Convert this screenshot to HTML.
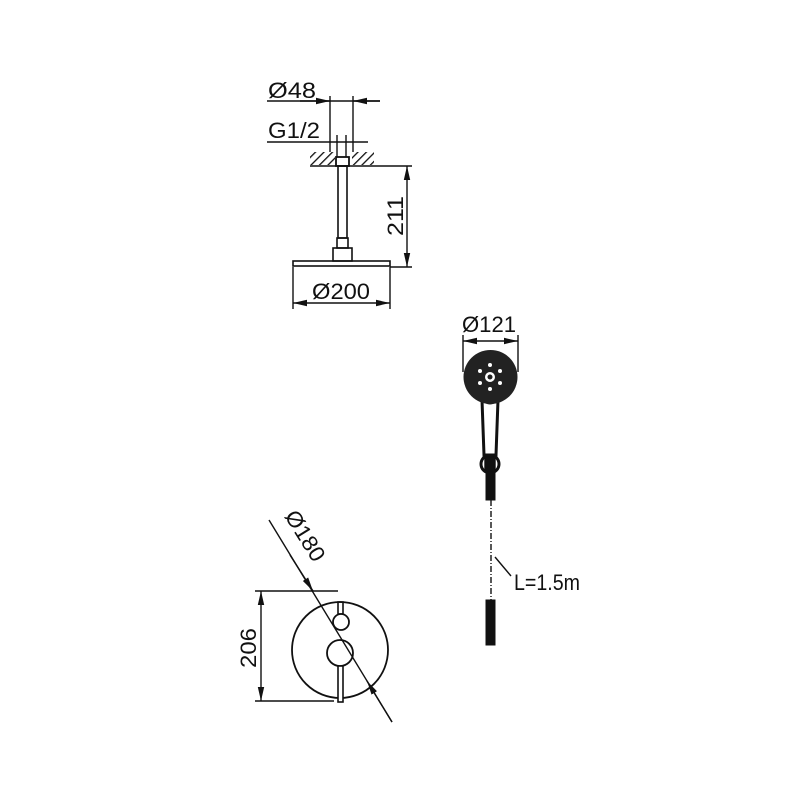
<!DOCTYPE html>
<html><head><meta charset="utf-8"><style>
html,body{margin:0;padding:0;background:#fff;}
svg{display:block;}
text{font-family:"Liberation Sans",sans-serif;fill:#111;}
</style></head><body>
<svg width="800" height="800" viewBox="0 0 800 800" xmlns="http://www.w3.org/2000/svg">
<defs>
<marker id="a" viewBox="0 0 14 10" refX="14" refY="5" markerWidth="14" markerHeight="10" orient="auto-start-reverse" markerUnits="userSpaceOnUse">
<path d="M0,1.8 L14,5 L0,8.2 Z" fill="#111"/></marker>
<pattern id="h" width="6" height="6" patternUnits="userSpaceOnUse" patternTransform="rotate(45)">
<rect width="6" height="6" fill="#fff"/><line x1="0" y1="0" x2="0" y2="6" stroke="#111" stroke-width="2.6"/></pattern>
</defs>
<g stroke="#111" stroke-width="1.4" fill="none">
<line x1="267" y1="101" x2="380" y2="101"/>
<line x1="300" y1="101" x2="330" y2="101" marker-end="url(#a)"/>
<line x1="380" y1="101" x2="353" y2="101" marker-end="url(#a)"/>
<line x1="330" y1="96" x2="330" y2="163"/>
<line x1="353" y1="96" x2="353" y2="163"/>
<line x1="267" y1="142" x2="368" y2="142"/>
<line x1="337" y1="135" x2="337" y2="157"/>
<line x1="346" y1="135" x2="346" y2="157"/>
<rect x="310" y="152" width="25" height="13" fill="url(#h)" stroke="none"/>
<rect x="352" y="152" width="22" height="13" fill="url(#h)" stroke="none"/>
<rect x="336" y="157" width="13" height="9" stroke-width="1.8"/>
<line x1="310" y1="166" x2="412" y2="166" stroke-width="1.6"/>
<rect x="338" y="166" width="9" height="72" stroke-width="1.6"/>
<rect x="337" y="238" width="11" height="10" stroke-width="1.6"/>
<rect x="333" y="248" width="19" height="13" stroke-width="1.6"/>
<rect x="293" y="261" width="97" height="5" stroke-width="1.6"/>
<line x1="390" y1="267" x2="412" y2="267"/>
<line x1="407" y1="166" x2="407" y2="267" marker-start="url(#a)" marker-end="url(#a)"/>
<line x1="293" y1="267" x2="293" y2="309"/>
<line x1="390" y1="267" x2="390" y2="309"/>
<line x1="293" y1="303" x2="390" y2="303" marker-start="url(#a)" marker-end="url(#a)"/>
<line x1="463" y1="335" x2="463" y2="372"/>
<line x1="518" y1="335" x2="518" y2="372"/>
<line x1="463" y1="341" x2="518" y2="341" marker-start="url(#a)" marker-end="url(#a)"/>
<path d="M482,400 L484,455 L496,455 L498,400" stroke-width="3" fill="#fff"/>
<circle cx="490" cy="464" r="9" stroke-width="3"/>
<rect x="485" y="457" width="10" height="15" fill="#111"/>
<rect x="486" y="472" width="9" height="28" fill="#111" stroke-width="1"/>
<line x1="491" y1="500" x2="491" y2="600" stroke-dasharray="6,2,1,2"/>
<rect x="486" y="600" width="9" height="45" fill="#111" stroke-width="1"/>
<line x1="495" y1="557" x2="511" y2="576"/>
<circle cx="340" cy="650" r="48" stroke-width="1.8"/>
<rect x="338" y="602" width="5" height="12" stroke-width="1.6"/>
<circle cx="341" cy="622" r="8" stroke-width="1.8" fill="#fff"/>
<circle cx="340" cy="653" r="13" stroke-width="1.8" fill="#fff"/>
<rect x="338" y="666" width="5" height="36" stroke-width="1.6" fill="#fff"/>
<line x1="255" y1="591" x2="338" y2="591"/>
<line x1="255" y1="701" x2="334" y2="701"/>
<line x1="261" y1="591" x2="261" y2="701" marker-start="url(#a)" marker-end="url(#a)"/>
<line x1="269" y1="520" x2="392" y2="722"/>
<line x1="290" y1="555" x2="313" y2="591" marker-end="url(#a)"/>
<line x1="392" y1="722" x2="367" y2="681" marker-end="url(#a)"/>
</g>
<circle cx="490.5" cy="377" r="27" fill="#222"/>
<g>
<circle cx="490" cy="377" r="5" fill="#fff"/>
<circle cx="490" cy="377" r="2.5" fill="#222"/>
<circle cx="490" cy="365" r="2" fill="#fff"/><circle cx="490" cy="389" r="2" fill="#fff"/>
<circle cx="480" cy="371" r="2" fill="#fff"/><circle cx="500" cy="371" r="2" fill="#fff"/>
<circle cx="480" cy="383" r="2" fill="#fff"/><circle cx="500" cy="383" r="2" fill="#fff"/>
</g>
<path d="M482,401 Q490,408 498,401 L498,398 L482,398 Z" fill="#222"/>
<text x="268" y="98" font-size="22" textLength="48" lengthAdjust="spacingAndGlyphs">Ø48</text>
<text x="268" y="138" font-size="22" textLength="52" lengthAdjust="spacingAndGlyphs">G1/2</text>
<text x="312" y="299" font-size="22" textLength="58" lengthAdjust="spacingAndGlyphs">Ø200</text>
<text x="0" y="0" font-size="22" transform="translate(403,236) rotate(-90)" textLength="40" lengthAdjust="spacingAndGlyphs">211</text>
<text x="462" y="332" font-size="22" textLength="54" lengthAdjust="spacingAndGlyphs">Ø121</text>
<text x="514" y="590" font-size="22" textLength="66" lengthAdjust="spacingAndGlyphs">L=1.5m</text>
<text x="0" y="0" font-size="22" transform="translate(256,668) rotate(-90)" textLength="40" lengthAdjust="spacingAndGlyphs">206</text>
<text x="0" y="0" font-size="22" transform="translate(284,516) rotate(58)" textLength="56" lengthAdjust="spacingAndGlyphs">Ø180</text>
</svg>
</body></html>
